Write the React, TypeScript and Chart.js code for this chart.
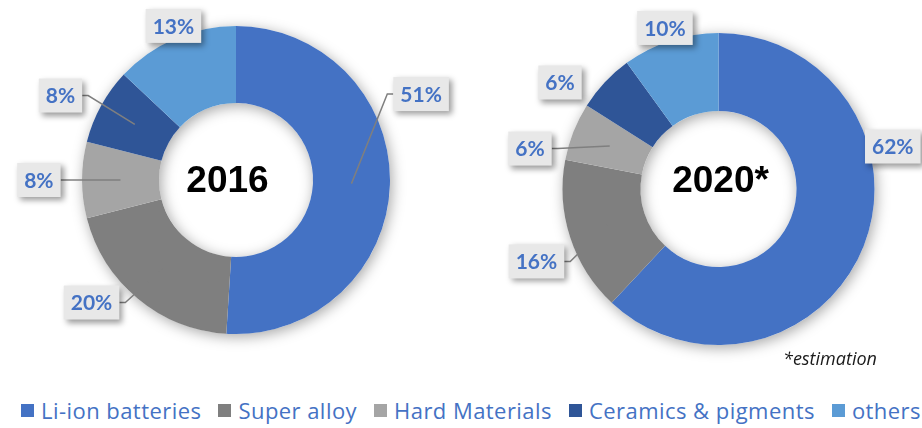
import React, { useEffect, useRef } from "react";
import { Chart, registerables } from "chart.js";

Chart.register(...registerables);

// ---- data ----
const categories = ["Li-ion batteries", "Super alloy", "Hard Materials", "Ceramics & pigments", "others"];
const values2016 = [51, 20, 8, 8, 13];
const values2020 = [62, 16, 6, 6, 10];
const titles = ["2016", "2020*"];
const footnote = "*estimation";

// ---- styles ----
const colors = ["#4472C4", "#7F7F7F", "#A5A5A5", "#2F5597", "#5B9BD5"];
const BLUE_TEXT = "#4472C4";

// label placement (angle shift in degrees from slice middle, distance as factor of outer radius)
const place2016 = {
  shift: [-26.7, 10.1, 0, -3.1, 1.3],
  dist: [1.325, 1.23, 1.28, 1.265, 1.08],
  leader: [true, true, true, true, false],
  titleDx: -8.5,
  titleDy: 1.5,
};
const place2020 = {
  shift: [-35.3, -3.7, -9.5, -9.3, -0.4],
  dist: [1.15, 1.256, 1.236, 1.224, 1.088],
  leader: [false, true, true, false, false],
  titleDx: 2,
  titleDy: -7.5,
};

const ringShadow = {
  id: "ringShadow",
  beforeDatasetsDraw(chart: any) {
    const arc = chart.getDatasetMeta(0).data[0];
    if (!arc) return;
    const { x, y, outerRadius, innerRadius } = arc.getProps(["x", "y", "outerRadius", "innerRadius"], true);
    const ctx = chart.ctx;
    ctx.save();
    ctx.shadowColor = "rgba(0,0,0,0.35)";
    ctx.shadowBlur = 14;
    ctx.shadowOffsetX = 2;
    ctx.shadowOffsetY = 3;
    ctx.beginPath();
    ctx.arc(x, y, outerRadius, 0, Math.PI * 2);
    ctx.arc(x, y, innerRadius, 0, Math.PI * 2, true);
    ctx.fillStyle = "#ffffff";
    ctx.fill("evenodd");
    ctx.restore();
  },
};

const donutLabels = {
  id: "donutLabels",
  afterDatasetsDraw(chart: any, _args: any, opts: any) {
    const meta = chart.getDatasetMeta(0);
    const data: number[] = chart.data.datasets[0].data;
    const total = data.reduce((a, b) => a + b, 0);
    const ctx = chart.ctx;
    let cxC = 0, cyC = 0;
    meta.data.forEach((el: any, i: number) => {
      const { x, y, startAngle, endAngle, outerRadius, innerRadius } = el.getProps(
        ["x", "y", "startAngle", "endAngle", "outerRadius", "innerRadius"],
        true
      );
      cxC = x; cyC = y;
      const mid = (startAngle + endAngle) / 2;
      const ang = mid + (opts.shift[i] * Math.PI) / 180;
      const d = outerRadius * opts.dist[i];
      const cx = x + Math.cos(ang) * d;
      const cy = y + Math.sin(ang) * d;
      const text = Math.round((data[i] / total) * 100) + "%";
      ctx.save();
      ctx.font = "bold 21px Lato";
      const tw = ctx.measureText(text).width;
      const bw = tw + 14;
      const bh = 34;
      const bx = cx - bw / 2;
      const by = cy - bh / 2;
      if (opts.leader[i]) {
        const rm = (outerRadius + innerRadius) / 2;
        const ax = x + Math.cos(mid) * rm;
        const ay = y + Math.sin(mid) * rm;
        const left = cx < x;
        const sx = left ? bx + bw : bx;
        const dir = left ? 1 : -1;
        ctx.beginPath();
        ctx.moveTo(sx, cy);
        ctx.lineTo(sx + dir * 6, cy);
        ctx.lineTo(ax, ay);
        ctx.strokeStyle = "#7F7F7F";
        ctx.lineWidth = 1.5;
        ctx.stroke();
      }
      ctx.shadowColor = "rgba(0,0,0,0.4)";
      ctx.shadowBlur = 6;
      ctx.shadowOffsetX = 3;
      ctx.shadowOffsetY = 3;
      ctx.fillStyle = "#E8E8E8";
      ctx.fillRect(bx, by, bw, bh);
      ctx.shadowColor = "transparent";
      ctx.fillStyle = BLUE_TEXT;
      ctx.textAlign = "center";
      ctx.textBaseline = "middle";
      ctx.fillText(text, cx, cy + 1);
      ctx.restore();
    });
    ctx.save();
    ctx.font = "bold 37px 'Liberation Sans', Arial, sans-serif";
    ctx.fillStyle = "#000000";
    ctx.textAlign = "center";
    ctx.textBaseline = "middle";
    ctx.fillText(opts.title, cxC + opts.titleDx, cyC + opts.titleDy);
    ctx.restore();
  },
};

function Donut(props: {
  values: number[];
  title: string;
  place: any;
  left: number;
  width: number;
  height: number;
  padding: { left: number; right: number; top: number; bottom: number };
}) {
  const ref = useRef<HTMLCanvasElement | null>(null);
  useEffect(() => {
    if (!ref.current) return;
    const chart = new Chart(ref.current, {
      type: "doughnut",
      data: {
        labels: categories,
        datasets: [
          {
            data: props.values,
            backgroundColor: colors,
            borderWidth: 0,
            hoverOffset: 0,
            offset: 0,
          },
        ],
      },
      options: {
        responsive: false,
        animation: false,
        devicePixelRatio: 1,
        events: [],
        cutout: "50%",
        layout: { padding: props.padding },
        plugins: {
          legend: { display: false },
          tooltip: { enabled: false },
          donutLabels: { ...props.place, title: props.title },
        } as any,
      },
      plugins: [ringShadow, donutLabels],
    });
    return () => chart.destroy();
  }, []);
  return (
    <canvas
      ref={ref}
      width={props.width}
      height={props.height}
      style={{ position: "absolute", left: props.left, top: 0, width: props.width, height: props.height }}
    />
  );
}

export default function App() {
  return (
    <div
      style={{
        position: "absolute",
        left: 0,
        top: 0,
        width: 922,
        height: 428,
        background: "#ffffff",
        overflow: "hidden",
      }}
    >
      <Donut
        values={values2016}
        title={titles[0]}
        place={place2016}
        left={0}
        width={470}
        height={370}
        padding={{ left: 82, right: 80, top: 26, bottom: 36 }}
      />
      <Donut
        values={values2020}
        title={titles[1]}
        place={place2020}
        left={460}
        width={462}
        height={370}
        padding={{ left: 102.5, right: 47.5, top: 33, bottom: 25 }}
      />
      <div
        style={{
          position: "absolute",
          left: 783,
          top: 348,
          font: "italic 18px 'Open Sans'",
          lineHeight: "20px",
          color: "#1a1a1a",
          whiteSpace: "nowrap",
        }}
      >
        {footnote}
      </div>
      <div
        style={{
          position: "absolute",
          left: 21,
          top: 398,
          display: "flex",
          alignItems: "center",
          font: "22px 'Open Sans'",
          letterSpacing: "0.45px",
          lineHeight: "24px",
          color: BLUE_TEXT,
          whiteSpace: "nowrap",
        }}
      >
        {categories.map((c, i) => (
          <div key={c} style={{ display: "flex", alignItems: "center", marginRight: 17 }}>
            <span style={{ display: "inline-block", width: 13, height: 13, background: colors[i], marginRight: 7 }} />
            <span>{c}</span>
          </div>
        ))}
      </div>
    </div>
  );
}
